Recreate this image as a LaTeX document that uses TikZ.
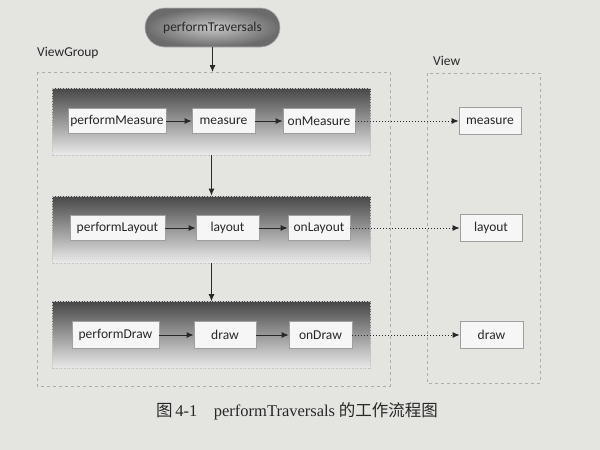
\documentclass[tikz,border=0pt]{standalone}
\usepackage{fontspec}
\setmainfont{Carlito}
\newfontfamily\capfont{Liberation Serif}
\newfontfamily\cjk{Noto Sans CJK SC}
\usetikzlibrary{arrows.meta}
\definecolor{paper}{RGB}{228,228,225}
\definecolor{ink}{RGB}{40,40,40}
\tikzset{
  txt/.style={font=\fontsize{13.5}{15}\selectfont, text=ink},
  callbox/.style={txt, draw=gray!75, fill=gray!7, line width=0.6pt, inner sep=0pt,
    minimum height=25pt},
  rowbox/.style={draw=gray!45, densely dotted, line width=0.6pt,
    top color=black!72, bottom color=black!8, minimum width=318pt, minimum height=67pt},
  group/.style={draw=gray!65, dashed, line width=0.6pt},
  flow/.style={-{Latex[length=7pt,width=6pt]}, draw=ink, line width=1pt},
  link/.style={-{Latex[length=7pt,width=6pt]}, draw=ink, dotted, line width=1pt},
  grouplabel/.style={txt, anchor=west, inner sep=0pt}
}
\begin{document}
\begin{tikzpicture}[x=1pt,y=-1pt]
  \fill[paper] (0,0) rectangle (600,450);
  \useasboundingbox (0,0) rectangle (600,450);

  % containers
  \draw[group] (37,72) rectangle (390,386);
  \draw[group] (427,73) rectangle (540,383);
  \node[grouplabel] (vglabel) at (37,53) {ViewGroup};
  \node[grouplabel] (vlabel) at (433,61) {View};
  \coordinate (vgtop) at (212.5,72);

  % entry point
  \node[txt, rounded corners=19.5pt, draw=gray!60, line width=0.6pt,
        inner color=black!22, outer color=black!58,
        minimum width=135pt, minimum height=39pt] (pt) at (212.5,27.5) {performTraversals};

  % the three passes
  \node[rowbox] (r1) at (211.5,121.5) {};
  \node[rowbox] (r2) at (211.5,229.5) {};
  \node[rowbox] (r3) at (211.5,335) {};

  \node[callbox, minimum width=98pt] (pm) at (117,121) {performMeasure};
  \node[callbox, minimum width=63pt] (meas) at (223.5,121) {measure};
  \node[callbox, minimum width=72pt] (onm) at (319,121) {onMeasure};

  \node[callbox, minimum width=95pt] (pl) at (117.5,228) {performLayout};
  \node[callbox, minimum width=63pt] (lay) at (227.5,228) {layout};
  \node[callbox, minimum width=62pt] (onl) at (319,228) {onLayout};

  \node[callbox, minimum width=87pt, minimum height=27pt] (pd) at (115.5,335) {performDraw};
  \node[callbox, minimum width=62pt, minimum height=27pt] (dr) at (225,335) {draw};
  \node[callbox, minimum width=63pt, minimum height=27pt] (ond) at (320.5,335) {onDraw};

  % View side
  \node[callbox, minimum width=62pt, minimum height=27pt] (vm) at (490,121) {measure};
  \node[callbox, minimum width=62pt, minimum height=27pt] (vl) at (491,228) {layout};
  \node[callbox, minimum width=63pt, minimum height=27pt] (vd) at (491.5,335) {draw};

  % connectors
  \draw[flow] (pt.south) -- (vgtop);
  \draw[flow] (r1.south) -- (r2.north);
  \draw[flow] (r2.south) -- (r3.north);

  \draw[flow] (pm) -- (meas);
  \draw[flow] (meas) -- (onm);
  \draw[flow] (pl) -- (lay);
  \draw[flow] (lay) -- (onl);
  \draw[flow] (pd) -- (dr);
  \draw[flow] (dr) -- (ond);

  \draw[link] (onm) -- (vm);
  \draw[link] (onl) -- (vl);
  \draw[link] (ond) -- (vd);

  % caption
  \node[font=\fontsize{16.5}{18}\selectfont, text=ink] (cap) at (297,411)
    {{\cjk 图}\,{\capfont 4-1\quad performTraversals} {\cjk 的工作流程图}};
\end{tikzpicture}
\end{document}
